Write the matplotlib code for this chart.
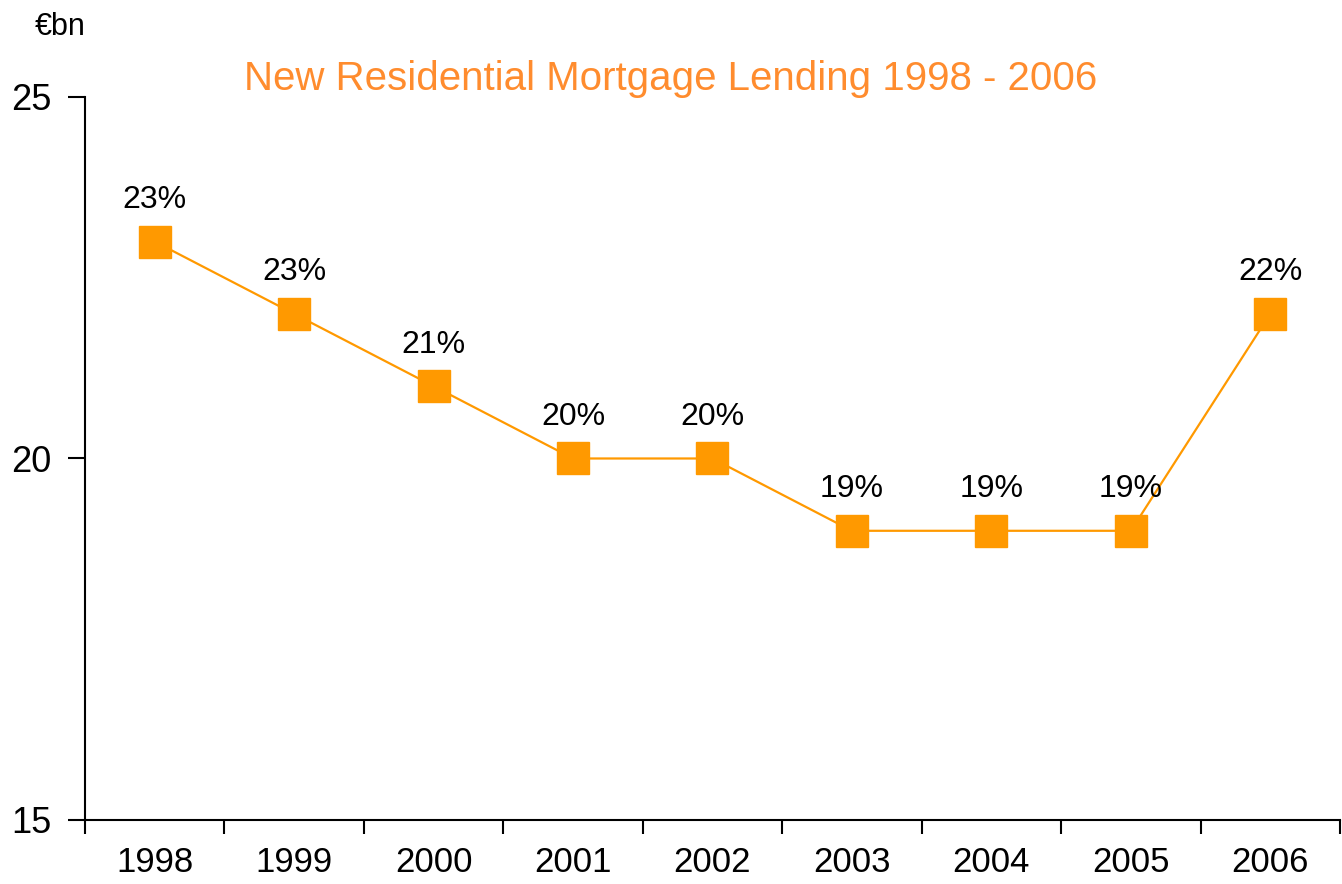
import matplotlib.pyplot as plt

plt.rcParams['font.family'] = ['Liberation Sans', 'DejaVu Sans']

## Chart data
years = ['1998', '1999', '2000', '2001', '2002', '2003', '2004', '2005', '2006']
lending = [23, 22, 21, 20, 20, 19, 19, 19, 22]
share_labels = ['23%', '23%', '21%', '20%', '20%', '19%', '19%', '19%', '22%']
y_ticks = [15, 20, 25]

orange = '#FF9900'

fig = plt.figure(figsize=(13.42, 8.84), dpi=100)
ax = fig.add_axes([0.0633, 0.0724, 0.9352, 0.8179])

x = range(len(years))
ax.plot(x, lending, color=orange, linewidth=1.6, marker='s', markersize=23,
        markerfacecolor=orange, markeredgecolor=orange, zorder=3)

for i, (val, lab) in enumerate(zip(lending, share_labels)):
    ax.annotate(lab, (i, val), xytext=(0, 30), textcoords='offset points',
                ha='center', va='center', fontsize=23, color='black')

ax.set_xlim(-0.5, len(years) - 0.5)
ax.set_ylim(15, 25)
ax.set_yticks(y_ticks)
ax.set_xticks([i + 0.5 for i in range(-1, len(years))], minor=False)
ax.set_xticklabels([])
ax.set_xticks(list(x), minor=True)
ax.set_xticklabels(years, minor=True, fontsize=25)
ax.tick_params(axis='x', which='minor', length=0, pad=19)
ax.tick_params(axis='x', which='major', length=10, width=1.5, direction='out')
ax.tick_params(axis='y', length=12, width=1.5, direction='out', labelsize=26, pad=12)

for side in ['top', 'right']:
    ax.spines[side].set_visible(False)
for side in ['left', 'bottom']:
    ax.spines[side].set_linewidth(1.5)

fig.text(0.5, 0.911, 'New Residential Mortgage Lending 1998 - 2006',
         ha='center', va='center', fontsize=29, color='#FF8C2E')
fig.text(0.026, 0.969, '€bn', ha='left', va='center', fontsize=22)

fig.savefig('out.png', dpi=100)
